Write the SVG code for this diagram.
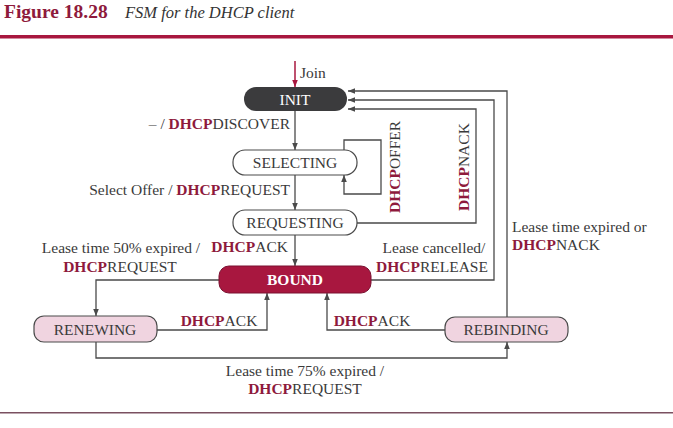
<svg xmlns="http://www.w3.org/2000/svg" width="673" height="428" viewBox="0 0 673 428">
<defs>
<style>
text{font-family:"Liberation Serif","Times New Roman",serif;font-size:15.5px;fill:#3a3a3a}
.d{font-weight:bold;fill:#8e1a3c}
.w{fill:#ffffff}
.c{text-anchor:middle}
.e{text-anchor:end}
.ln{fill:none;stroke:#4a4a4a;stroke-width:1.3;marker-end:url(#ah)}
.box{stroke:#4a4a4a;stroke-width:1.2}
</style>
<marker id="ah" viewBox="0 0 10 10" refX="10" refY="5" markerWidth="7" markerHeight="7" markerUnits="userSpaceOnUse" orient="auto"><path d="M0,1 L10,5 L0,9 Z" fill="#4a4a4a"/></marker>
<marker id="ahr" viewBox="0 0 10 10" refX="10" refY="5" markerWidth="7" markerHeight="7" markerUnits="userSpaceOnUse" orient="auto"><path d="M0,1 L10,5 L0,9 Z" fill="#a8173f"/></marker>
</defs>
<rect width="673" height="428" fill="#ffffff"/>
<g id="title">
<text x="4" y="18" style="font-size:19.5px;font-weight:bold;fill:#8e1a3c">Figure 18.28</text>
<text x="125" y="18" style="font-size:16.5px;font-style:italic;fill:#333">FSM for the DHCP client</text>
<rect x="0" y="35" width="673" height="3.5" fill="#a8173f"/>
<rect x="0" y="412" width="673" height="1.5" fill="#7a5060"/>
</g>
<g id="connectors">
<path d="M295 61 V87" fill="none" stroke="#a8173f" stroke-width="1.5" marker-end="url(#ahr)"/>
<path class="ln" d="M295 111 V150"/>
<path class="ln" d="M295 175 V210"/>
<path class="ln" d="M295 235 V266"/>
<path class="ln" d="M344 150 V140 H381 V194 H344 V175"/>
<path class="ln" d="M357 223 H476 V109 H348"/>
<path class="ln" d="M371 280 H494 V100 H348"/>
<path class="ln" d="M507 317 V91 H348"/>
<path class="ln" d="M219 280 H96 V316"/>
<path class="ln" d="M157 330 H267 V293"/>
<path class="ln" d="M445 330 H327 V293"/>
<path class="ln" d="M96 342 V358 H507 V342"/>
</g>
<g id="labels">
<text x="300" y="78">Join</text>
<text x="290" y="129" class="e">– / <tspan class="d">DHCP</tspan>DISCOVER</text>
<text x="290" y="195" class="e">Select Offer / <tspan class="d">DHCP</tspan>REQUEST</text>
<text x="288" y="252" class="e"><tspan class="d">DHCP</tspan>ACK</text>
<text x="400" y="213" transform="rotate(-90 400 213)"><tspan class="d">DHCP</tspan>OFFER</text>
<text x="469" y="211" transform="rotate(-90 469 211)"><tspan class="d">DHCP</tspan>NACK</text>
<text x="121" y="253" class="c">Lease time 50% expired /</text>
<text x="120" y="272" class="c"><tspan class="d">DHCP</tspan>REQUEST</text>
<text x="434" y="253" class="c">Lease cancelled/</text>
<text x="432" y="272" class="c"><tspan class="d">DHCP</tspan>RELEASE</text>
<text x="512" y="232">Lease time expired or</text>
<text x="512" y="250"><tspan class="d">DHCP</tspan>NACK</text>
<text x="219" y="326" class="c"><tspan class="d">DHCP</tspan>ACK</text>
<text x="372" y="326" class="c"><tspan class="d">DHCP</tspan>ACK</text>
<text x="305" y="376" class="c">Lease time 75% expired /</text>
<text x="305" y="394" class="c"><tspan class="d">DHCP</tspan>REQUEST</text>
</g>
<g id="INIT">
<rect x="244" y="87" width="103" height="24" rx="12" fill="#3b3b3d"/>
<text x="295" y="105" class="c w">INIT</text>
</g>
<g id="SELECTING">
<rect class="box" x="233" y="150" width="124" height="25" rx="12" fill="#ffffff"/>
<text x="295" y="168" class="c">SELECTING</text>
</g>
<g id="REQUESTING">
<rect class="box" x="233" y="210" width="124" height="25" rx="12" fill="#ffffff"/>
<text x="295" y="228" class="c">REQUESTING</text>
</g>
<g id="BOUND">
<rect x="219" y="266" width="152" height="27" rx="10" fill="#a8173f" stroke="#7a1030" stroke-width="1"/>
<text x="295" y="285" class="c w" style="font-weight:bold">BOUND</text>
</g>
<g id="RENEWING">
<rect class="box" x="34" y="316" width="123" height="26" rx="10" fill="#f0d4e0"/>
<text x="95" y="335" class="c">RENEWING</text>
</g>
<g id="REBINDING">
<rect class="box" x="445" y="317" width="123" height="25" rx="10" fill="#f0d4e0"/>
<text x="506" y="335" class="c">REBINDING</text>
</g>
</svg>
